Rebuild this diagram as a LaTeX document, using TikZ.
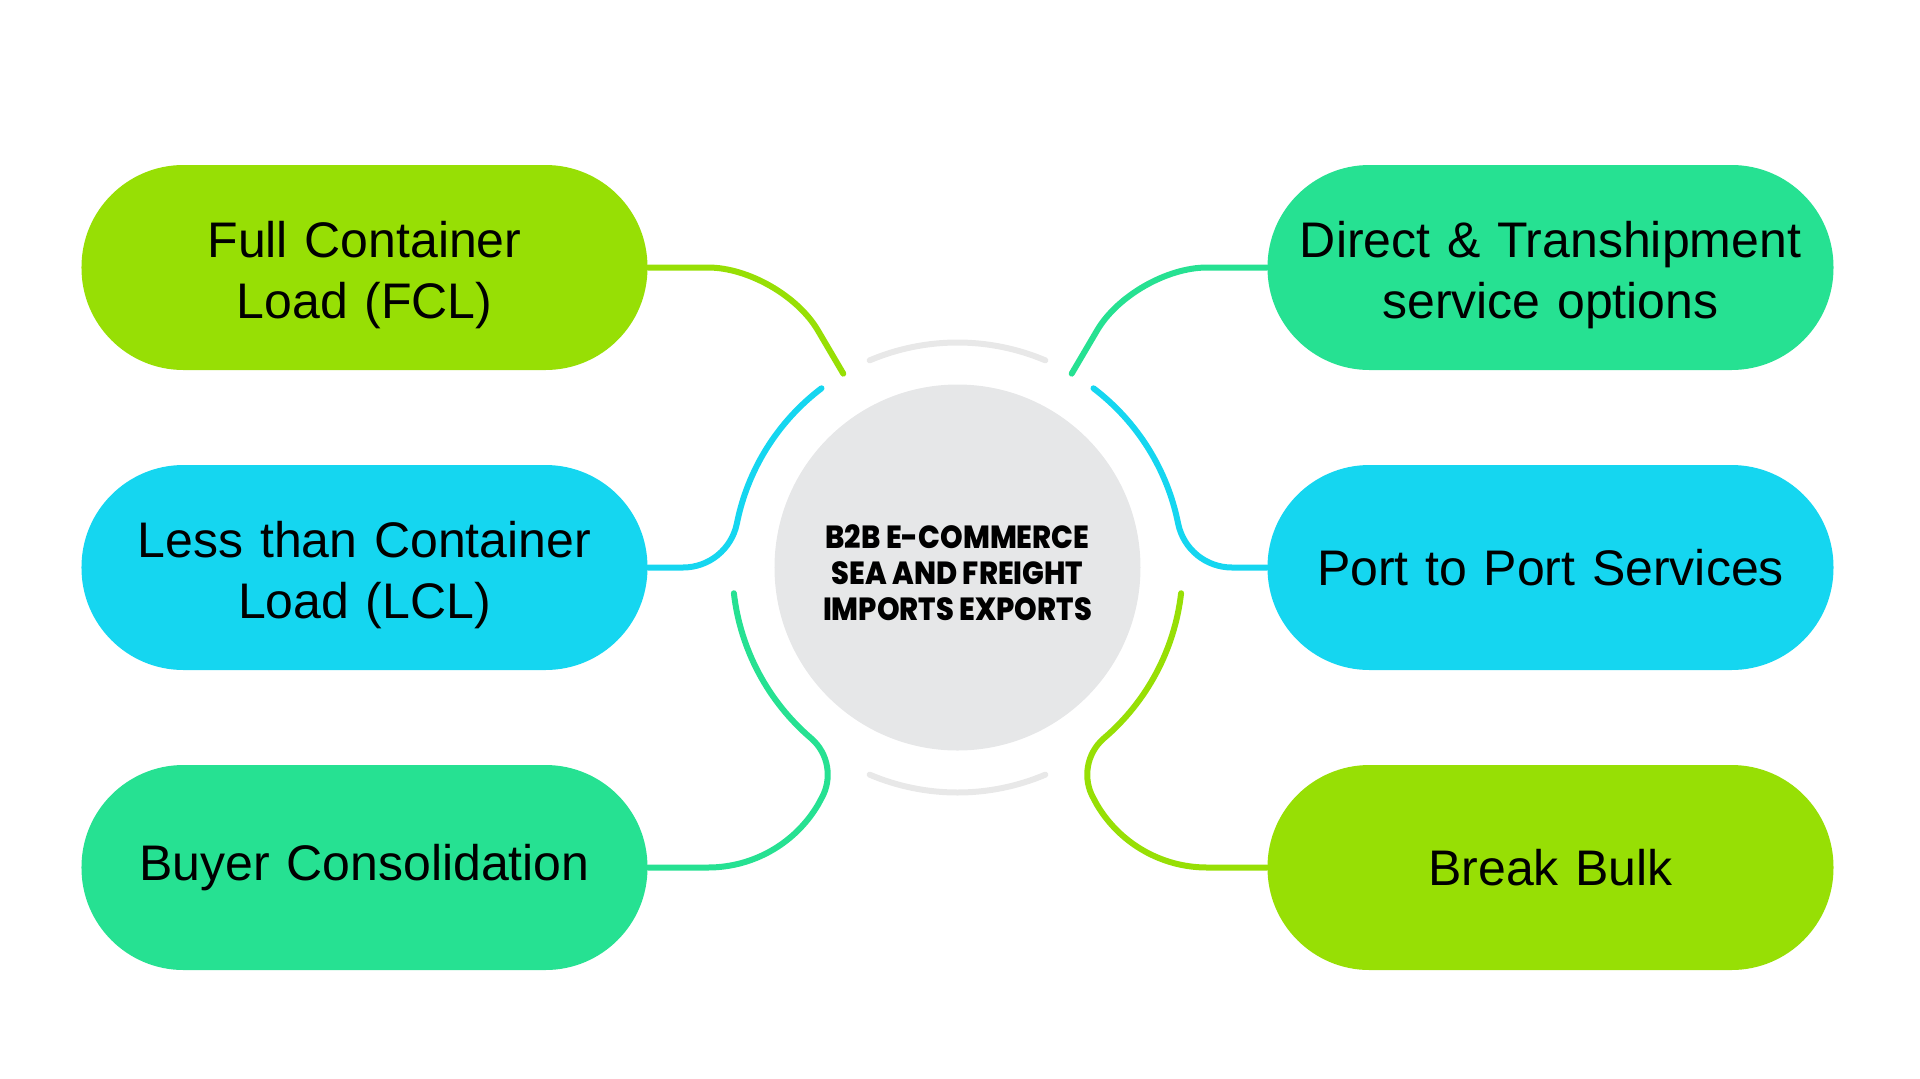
\documentclass[tikz,border=0pt]{standalone}
\usepackage{fontspec}
\setmainfont{Liberation Sans}
\newfontfamily\hubfont{Poppins}[BoldFont={Poppins ExtraBold}, FakeStretch=0.9]
\usetikzlibrary{positioning}

\definecolor{limeG}{HTML}{97DF05}
\definecolor{cyanB}{HTML}{15D6F0}
\definecolor{mintG}{HTML}{26E192}
\definecolor{hubgray}{HTML}{E6E7E8}
\definecolor{ringgray}{HTML}{E8E8E8}
\newcommand{\pillstrut}{\rule{0pt}{25.6pt}}

\begin{document}
\begin{tikzpicture}[x=0.5pt, y=0.5pt,
    pill/.style={rectangle, rounded corners=51pt, minimum width=283pt, minimum height=102.5pt,
        text width=270pt, align=center, font=\fontsize{25}{30.5}\selectfont},
    link/.style={line width=3pt, line cap=round},
    ring/.style={line width=3pt, line cap=round, ringgray}]
    \useasboundingbox (-957.5,-510.5) rectangle (962.5,567.5);

    % central hub
    \node[circle, fill=hubgray, minimum size=183pt, inner sep=0pt,
        label={[align=center, yshift=-2.5pt, font=\hubfont\bfseries\fontsize{16}{18}\selectfont]center:%
        B2B E-COMMERCE\\SEA AND FREIGHT\\IMPORTS EXPORTS}] (hub) at (0,0) {};

    % grey rings above and below the hub
    \draw[ring] (67:112.5pt) arc[start angle=67, end angle=113, radius=112.5pt];
    \draw[ring] (247:112.5pt) arc[start angle=247, end angle=293, radius=112.5pt];

    % service pills
    \foreach \n/\x/\y/\c/\txt in {fcl/-593/300/limeG/{\pillstrut Full Container\\Load (FCL)},
        lcl/-593/0/cyanB/{\pillstrut Less than Container\\Load (LCL)},
        buyer/-593/-300/mintG/{Buyer Consolidation},
        direct/593/300/mintG/{\pillstrut Direct \& Transhipment\\service options},
        port/593/0/cyanB/{Port to Port Services},
        bulk/593/-300/limeG/{Break Bulk}} {
        \node[pill, fill=\c] (\n) at (\x,\y) {\txt};
    }

    % links on the left
    \draw[link, limeG, rounded corners=36.5pt] (fcl.east) -- (-176.6,300) -- (120.5:112.5pt);
    \draw[link, cyanB] (lcl.east) -- (-274.5,0) arc[start angle=-90, end angle=-11.33, radius=27.5pt]
        arc[start angle=168.67, end angle=127.2, radius=112.5pt];
    \draw[link, mintG] (buyer.east) -- (-249.6,-300) arc[start angle=-90, end angle=-30.5, radius=64pt]
        -- (-136.4,-231.5) arc[start angle=-30.5, end angle=49.4, radius=24pt]
        arc[start angle=229.4, end angle=186.6, radius=112.5pt];

    % links on the right
    \draw[link, mintG, rounded corners=36.5pt] (direct.west) -- (176.6,300) -- (59.5:112.5pt);
    \draw[link, cyanB] (port.west) -- (274.5,0) arc[start angle=270, end angle=191.33, radius=27.5pt]
        arc[start angle=11.33, end angle=52.8, radius=112.5pt];
    \draw[link, limeG] (bulk.west) -- (249.6,-300) arc[start angle=270, end angle=210.5, radius=64pt]
        -- (136.4,-231.5) arc[start angle=210.5, end angle=130.6, radius=24pt]
        arc[start angle=-49.4, end angle=-6.6, radius=112.5pt];
\end{tikzpicture}
\end{document}
